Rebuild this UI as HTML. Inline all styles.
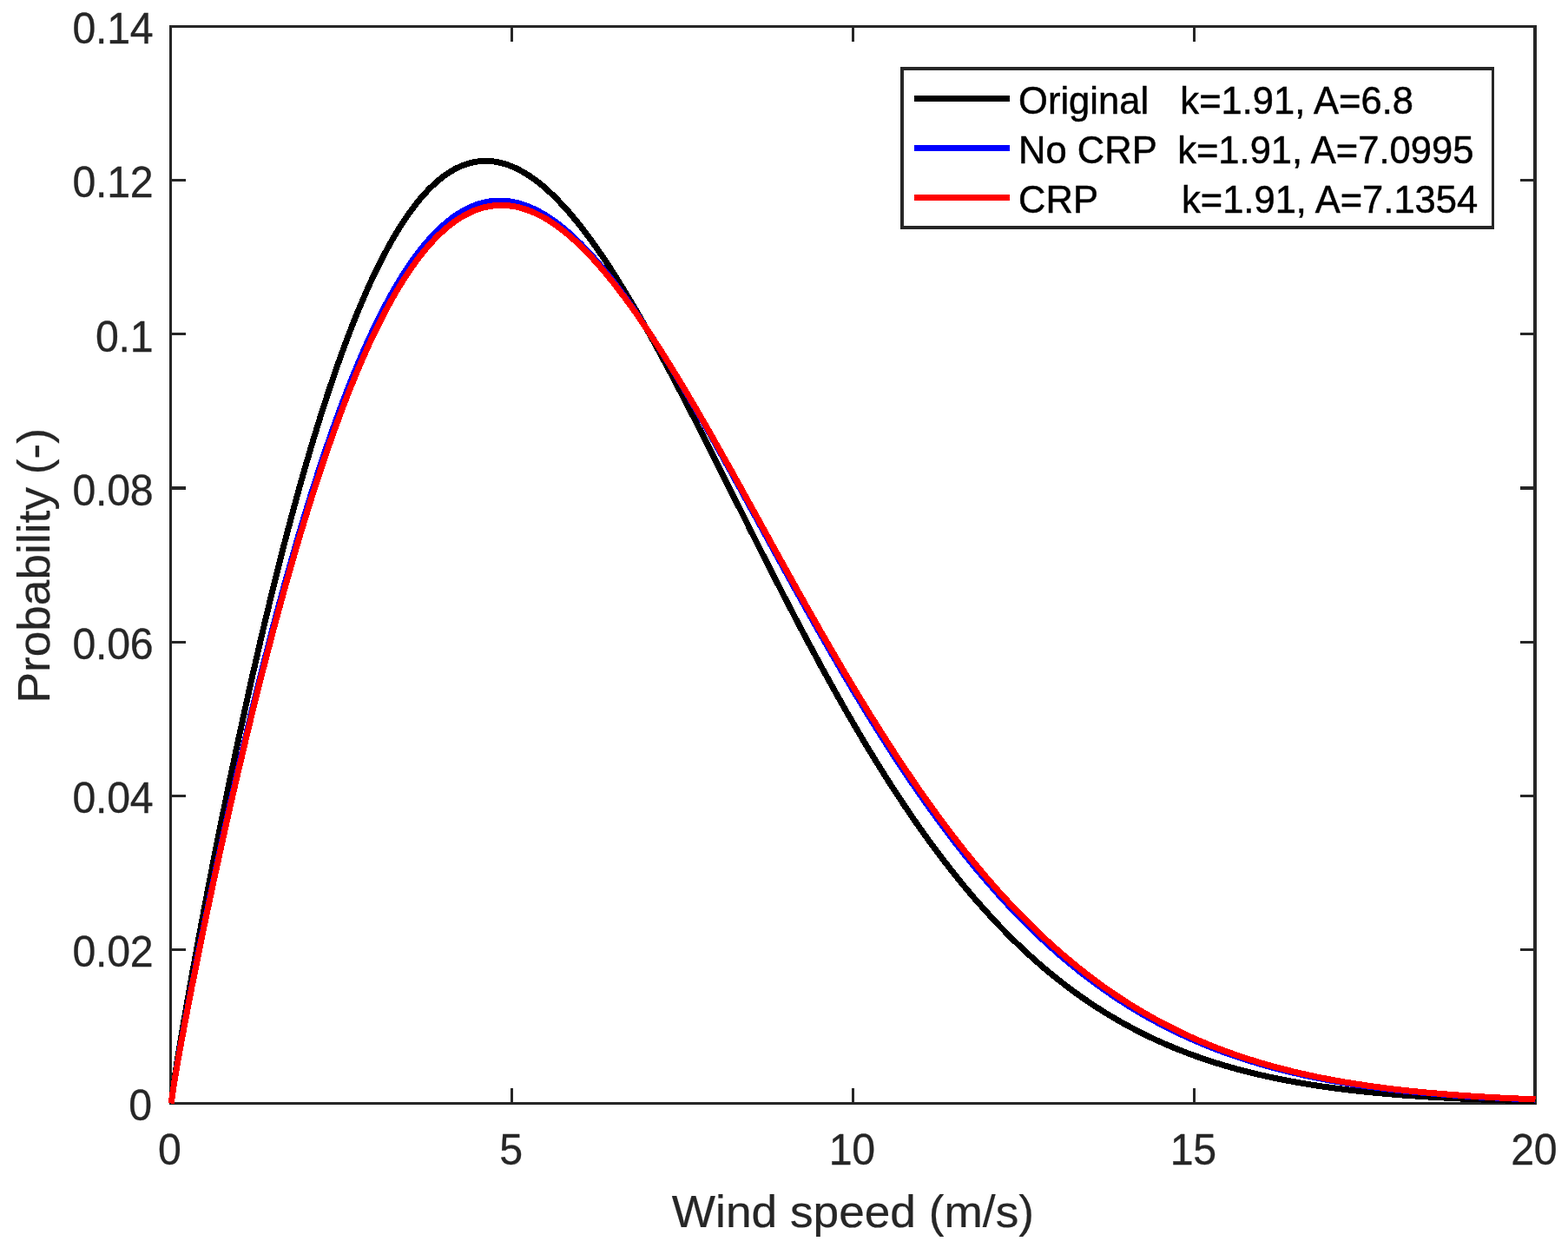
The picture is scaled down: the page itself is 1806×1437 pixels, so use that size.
<!DOCTYPE html>
<html lang="en"><head><meta charset="utf-8"><title>Weibull wind speed distribution</title>
<style>
html,body{margin:0;padding:0;background:#fff;}
body{width:1806px;height:1437px;overflow:hidden;}
svg{display:block;}
text{font-family:"Liberation Sans", Arial, Helvetica, sans-serif;fill:#262626;white-space:pre;}
.tk{font-size:48.3px;letter-spacing:-0.35px;stroke:#262626;stroke-width:0.3px;}
.lb{font-size:53.25px;stroke:#262626;stroke-width:0.25px;}
.lg{font-size:43.55px;fill:#000;stroke:#000;stroke-width:0.5px;}
.ax{fill:#262626;stroke:none;}
.cv{fill:none;stroke-width:7.0;stroke-linejoin:round;stroke-linecap:butt;shape-rendering:crispEdges;}
</style></head><body>
<svg width="1806" height="1437" viewBox="0 0 1806 1437">
<rect x="0" y="0" width="1806" height="1437" fill="#ffffff"/>
<clipPath id="c"><rect x="194" y="29" width="1576" height="1243"/></clipPath>
<g class="ax">
<rect x="195" y="29" width="3" height="1243"/>
<rect x="1766" y="29" width="4" height="1243"/>
<rect x="195" y="29" width="1575" height="3"/>
<rect x="195" y="1269" width="1575" height="3"/>
<rect x="588" y="1253" width="3" height="16"/>
<rect x="588" y="32" width="3" height="16"/>
<rect x="981" y="1253" width="3" height="16"/>
<rect x="981" y="32" width="3" height="16"/>
<rect x="1374" y="1253" width="3" height="16"/>
<rect x="1374" y="32" width="3" height="16"/>
<rect x="198" y="1092" width="16" height="3"/>
<rect x="1751" y="1092" width="15" height="3"/>
<rect x="198" y="915" width="16" height="3"/>
<rect x="1751" y="915" width="15" height="3"/>
<rect x="198" y="738" width="16" height="3"/>
<rect x="1751" y="738" width="15" height="3"/>
<rect x="198" y="560" width="16" height="4"/>
<rect x="1751" y="560" width="15" height="4"/>
<rect x="198" y="383" width="16" height="3"/>
<rect x="1751" y="383" width="15" height="3"/>
<rect x="198" y="206" width="16" height="3"/>
<rect x="1751" y="206" width="15" height="3"/>
</g>
<g clip-path="url(#c)">
<polyline class="cv" stroke="#000000" points="197.1,1270.5 201.0,1242.0 204.9,1217.0 208.8,1193.2 212.8,1170.1 216.7,1147.6 220.6,1125.5 224.6,1103.8 228.5,1082.5 232.4,1061.5 236.3,1040.7 240.3,1020.2 244.2,1000.0 248.1,980.0 252.1,960.3 256.0,940.8 259.9,921.6 263.8,902.5 267.8,883.7 271.7,865.1 275.6,846.8 279.6,828.7 283.5,810.8 287.4,793.1 291.3,775.6 295.3,758.4 299.2,741.4 303.1,724.7 307.1,708.2 311.0,691.9 314.9,675.8 318.8,660.0 322.8,644.5 326.7,629.1 330.6,614.1 334.6,599.2 338.5,584.6 342.4,570.3 346.3,556.2 350.3,542.4 354.2,528.8 358.1,515.5 362.1,502.4 366.0,489.6 369.9,477.0 373.8,464.8 377.8,452.7 381.7,441.0 385.6,429.5 389.6,418.2 393.5,407.3 397.4,396.6 401.3,386.1 405.3,376.0 409.2,366.1 413.1,356.5 417.1,347.1 421.0,338.0 424.9,329.2 428.8,320.6 432.8,312.4 436.7,304.4 440.6,296.6 444.6,289.2 448.5,282.0 452.4,275.0 456.3,268.4 460.3,262.0 464.2,255.8 468.1,250.0 472.1,244.4 476.0,239.1 479.9,234.0 483.8,229.2 487.8,224.6 491.7,220.3 495.6,216.3 499.6,212.5 503.5,209.0 507.4,205.7 511.4,202.7 515.3,199.9 519.2,197.4 523.1,195.1 527.1,193.1 531.0,191.3 534.9,189.8 538.9,188.5 542.8,187.4 546.7,186.5 550.6,185.9 554.6,185.5 558.5,185.3 562.4,185.4 566.4,185.7 570.3,186.2 574.2,186.9 578.1,187.8 582.1,188.9 586.0,190.3 589.9,191.8 593.9,193.5 597.8,195.5 601.7,197.6 605.6,199.9 609.6,202.4 613.5,205.1 617.4,208.0 621.4,211.0 625.3,214.2 629.2,217.6 633.1,221.2 637.1,224.9 641.0,228.8 644.9,232.9 648.9,237.1 652.8,241.4 656.7,245.9 660.6,250.6 664.6,255.4 668.5,260.3 672.4,265.4 676.4,270.6 680.3,275.9 684.2,281.4 688.1,286.9 692.1,292.6 696.0,298.4 699.9,304.3 703.9,310.4 707.8,316.5 711.7,322.7 715.6,329.1 719.6,335.5 723.5,342.0 727.4,348.6 731.4,355.3 735.3,362.1 739.2,368.9 743.1,375.8 747.1,382.8 751.0,389.9 754.9,397.0 758.9,404.2 762.8,411.5 766.7,418.8 770.6,426.1 774.6,433.5 778.5,441.0 782.4,448.5 786.4,456.0 790.3,463.6 794.2,471.2 798.1,478.9 802.1,486.6 806.0,494.3 809.9,502.0 813.9,509.8 817.8,517.5 821.7,525.3 825.6,533.1 829.6,541.0 833.5,548.8 837.4,556.6 841.4,564.5 845.3,572.3 849.2,580.1 853.2,588.0 857.1,595.8 861.0,603.6 864.9,611.5 868.9,619.3 872.8,627.1 876.7,634.8 880.7,642.6 884.6,650.3 888.5,658.1 892.4,665.8 896.4,673.4 900.3,681.1 904.2,688.7 908.2,696.3 912.1,703.8 916.0,711.4 919.9,718.9 923.9,726.3 927.8,733.7 931.7,741.1 935.7,748.4 939.6,755.7 943.5,763.0 947.4,770.2 951.4,777.4 955.3,784.5 959.2,791.5 963.2,798.6 967.1,805.5 971.0,812.5 974.9,819.3 978.9,826.2 982.8,832.9 986.7,839.6 990.7,846.3 994.6,852.9 998.5,859.4 1002.4,865.9 1006.4,872.3 1010.3,878.7 1014.2,885.0 1018.2,891.3 1022.1,897.5 1026.0,903.6 1029.9,909.7 1033.9,915.7 1037.8,921.6 1041.7,927.5 1045.7,933.4 1049.6,939.1 1053.5,944.8 1057.4,950.4 1061.4,956.0 1065.3,961.5 1069.2,967.0 1073.2,972.4 1077.1,977.7 1081.0,982.9 1084.9,988.1 1088.9,993.2 1092.8,998.3 1096.7,1003.3 1100.7,1008.2 1104.6,1013.1 1108.5,1017.9 1112.4,1022.7 1116.4,1027.4 1120.3,1032.0 1124.2,1036.5 1128.2,1041.0 1132.1,1045.4 1136.0,1049.8 1140.0,1054.1 1143.9,1058.4 1147.8,1062.5 1151.7,1066.7 1155.7,1070.7 1159.6,1074.7 1163.5,1078.7 1167.5,1082.6 1171.4,1086.4 1175.3,1090.1 1179.2,1093.8 1183.2,1097.5 1187.1,1101.1 1191.0,1104.6 1195.0,1108.1 1198.9,1111.5 1202.8,1114.9 1206.7,1118.2 1210.7,1121.4 1214.6,1124.6 1218.5,1127.8 1222.5,1130.8 1226.4,1133.9 1230.3,1136.9 1234.2,1139.8 1238.2,1142.7 1242.1,1145.5 1246.0,1148.3 1250.0,1151.0 1253.9,1153.7 1257.8,1156.3 1261.7,1158.9 1265.7,1161.4 1269.6,1163.9 1273.5,1166.4 1277.5,1168.8 1281.4,1171.1 1285.3,1173.4 1289.2,1175.7 1293.2,1177.9 1297.1,1180.1 1301.0,1182.2 1305.0,1184.3 1308.9,1186.4 1312.8,1188.4 1316.7,1190.4 1320.7,1192.3 1324.6,1194.2 1328.5,1196.0 1332.5,1197.9 1336.4,1199.6 1340.3,1201.4 1344.2,1203.1 1348.2,1204.7 1352.1,1206.4 1356.0,1208.0 1360.0,1209.5 1363.9,1211.1 1367.8,1212.6 1371.7,1214.1 1375.7,1215.5 1379.6,1216.9 1383.5,1218.3 1387.5,1219.6 1391.4,1220.9 1395.3,1222.2 1399.2,1223.5 1403.2,1224.7 1407.1,1225.9 1411.0,1227.1 1415.0,1228.2 1418.9,1229.3 1422.8,1230.4 1426.7,1231.5 1430.7,1232.5 1434.6,1233.6 1438.5,1234.6 1442.5,1235.5 1446.4,1236.5 1450.3,1237.4 1454.2,1238.3 1458.2,1239.2 1462.1,1240.0 1466.0,1240.9 1470.0,1241.7 1473.9,1242.5 1477.8,1243.3 1481.8,1244.1 1485.7,1244.8 1489.6,1245.5 1493.5,1246.2 1497.5,1246.9 1501.4,1247.6 1505.3,1248.2 1509.3,1248.9 1513.2,1249.5 1517.1,1250.1 1521.0,1250.7 1525.0,1251.3 1528.9,1251.8 1532.8,1252.4 1536.8,1252.9 1540.7,1253.4 1544.6,1253.9 1548.5,1254.4 1552.5,1254.9 1556.4,1255.3 1560.3,1255.8 1564.3,1256.2 1568.2,1256.7 1572.1,1257.1 1576.0,1257.5 1580.0,1257.9 1583.9,1258.3 1587.8,1258.6 1591.8,1259.0 1595.7,1259.4 1599.6,1259.7 1603.5,1260.0 1607.5,1260.4 1611.4,1260.7 1615.3,1261.0 1619.3,1261.3 1623.2,1261.6 1627.1,1261.8 1631.0,1262.1 1635.0,1262.4 1638.9,1262.6 1642.8,1262.9 1646.8,1263.1 1650.7,1263.4 1654.6,1263.6 1658.5,1263.8 1662.5,1264.0 1666.4,1264.2 1670.3,1264.4 1674.3,1264.6 1678.2,1264.8 1682.1,1265.0 1686.0,1265.2 1690.0,1265.4 1693.9,1265.5 1697.8,1265.7 1701.8,1265.9 1705.7,1266.0 1709.6,1266.2 1713.5,1266.3 1717.5,1266.4 1721.4,1266.6 1725.3,1266.7 1729.3,1266.8 1733.2,1267.0 1737.1,1267.1 1741.0,1267.2 1745.0,1267.3 1748.9,1267.4 1752.8,1267.5 1756.8,1267.6 1760.7,1267.7 1764.6,1267.8 1768.5,1267.9"/>
<polyline class="cv" stroke="#0000ff" points="197.1,1270.5 201.0,1244.3 204.9,1221.3 208.8,1199.3 212.8,1178.0 216.7,1157.3 220.6,1137.0 224.6,1117.0 228.5,1097.3 232.4,1077.9 236.3,1058.8 240.3,1039.9 244.2,1021.2 248.1,1002.8 252.1,984.5 256.0,966.5 259.9,948.7 263.8,931.1 267.8,913.7 271.7,896.5 275.6,879.5 279.6,862.7 283.5,846.1 287.4,829.6 291.3,813.4 295.3,797.4 299.2,781.6 303.1,766.0 307.1,750.6 311.0,735.4 314.9,720.4 318.8,705.6 322.8,691.1 326.7,676.7 330.6,662.5 334.6,648.6 338.5,634.9 342.4,621.4 346.3,608.1 350.3,595.0 354.2,582.2 358.1,569.6 362.1,557.2 366.0,545.0 369.9,533.0 373.8,521.3 377.8,509.8 381.7,498.5 385.6,487.5 389.6,476.7 393.5,466.1 397.4,455.8 401.3,445.7 405.3,435.8 409.2,426.2 413.1,416.8 417.1,407.6 421.0,398.7 424.9,390.0 428.8,381.6 432.8,373.4 436.7,365.4 440.6,357.6 444.6,350.1 448.5,342.9 452.4,335.8 456.3,329.0 460.3,322.5 464.2,316.2 468.1,310.1 472.1,304.2 476.0,298.6 479.9,293.2 483.8,288.1 487.8,283.2 491.7,278.5 495.6,274.0 499.6,269.8 503.5,265.8 507.4,262.0 511.4,258.5 515.3,255.2 519.2,252.1 523.1,249.2 527.1,246.5 531.0,244.1 534.9,241.9 538.9,239.8 542.8,238.0 546.7,236.5 550.6,235.1 554.6,233.9 558.5,233.0 562.4,232.2 566.4,231.6 570.3,231.3 574.2,231.1 578.1,231.2 582.1,231.4 586.0,231.8 589.9,232.4 593.9,233.2 597.8,234.2 601.7,235.4 605.6,236.7 609.6,238.2 613.5,239.9 617.4,241.8 621.4,243.8 625.3,246.0 629.2,248.4 633.1,250.9 637.1,253.6 641.0,256.4 644.9,259.4 648.9,262.5 652.8,265.8 656.7,269.3 660.6,272.8 664.6,276.6 668.5,280.4 672.4,284.4 676.4,288.5 680.3,292.8 684.2,297.1 688.1,301.6 692.1,306.2 696.0,311.0 699.9,315.8 703.9,320.8 707.8,325.8 711.7,331.0 715.6,336.3 719.6,341.6 723.5,347.1 727.4,352.6 731.4,358.3 735.3,364.0 739.2,369.9 743.1,375.8 747.1,381.8 751.0,387.8 754.9,394.0 758.9,400.2 762.8,406.4 766.7,412.8 770.6,419.2 774.6,425.7 778.5,432.2 782.4,438.8 786.4,445.4 790.3,452.1 794.2,458.8 798.1,465.6 802.1,472.4 806.0,479.3 809.9,486.2 813.9,493.1 817.8,500.1 821.7,507.1 825.6,514.1 829.6,521.2 833.5,528.3 837.4,535.4 841.4,542.5 845.3,549.6 849.2,556.8 853.2,563.9 857.1,571.1 861.0,578.3 864.9,585.5 868.9,592.6 872.8,599.8 876.7,607.0 880.7,614.2 884.6,621.4 888.5,628.6 892.4,635.8 896.4,642.9 900.3,650.1 904.2,657.2 908.2,664.4 912.1,671.5 916.0,678.6 919.9,685.6 923.9,692.7 927.8,699.7 931.7,706.8 935.7,713.7 939.6,720.7 943.5,727.6 947.4,734.5 951.4,741.4 955.3,748.3 959.2,755.1 963.2,761.8 967.1,768.6 971.0,775.3 974.9,782.0 978.9,788.6 982.8,795.2 986.7,801.7 990.7,808.2 994.6,814.7 998.5,821.1 1002.4,827.5 1006.4,833.8 1010.3,840.1 1014.2,846.4 1018.2,852.6 1022.1,858.7 1026.0,864.8 1029.9,870.9 1033.9,876.9 1037.8,882.8 1041.7,888.7 1045.7,894.6 1049.6,900.4 1053.5,906.1 1057.4,911.8 1061.4,917.4 1065.3,923.0 1069.2,928.6 1073.2,934.0 1077.1,939.5 1081.0,944.8 1084.9,950.2 1088.9,955.4 1092.8,960.6 1096.7,965.8 1100.7,970.9 1104.6,975.9 1108.5,980.9 1112.4,985.8 1116.4,990.7 1120.3,995.5 1124.2,1000.3 1128.2,1005.0 1132.1,1009.6 1136.0,1014.2 1140.0,1018.7 1143.9,1023.2 1147.8,1027.6 1151.7,1032.0 1155.7,1036.3 1159.6,1040.6 1163.5,1044.8 1167.5,1048.9 1171.4,1053.0 1175.3,1057.0 1179.2,1061.0 1183.2,1064.9 1187.1,1068.8 1191.0,1072.6 1195.0,1076.4 1198.9,1080.1 1202.8,1083.8 1206.7,1087.4 1210.7,1090.9 1214.6,1094.4 1218.5,1097.9 1222.5,1101.3 1226.4,1104.6 1230.3,1107.9 1234.2,1111.1 1238.2,1114.3 1242.1,1117.5 1246.0,1120.6 1250.0,1123.6 1253.9,1126.6 1257.8,1129.6 1261.7,1132.5 1265.7,1135.3 1269.6,1138.1 1273.5,1140.9 1277.5,1143.6 1281.4,1146.3 1285.3,1148.9 1289.2,1151.5 1293.2,1154.0 1297.1,1156.5 1301.0,1159.0 1305.0,1161.4 1308.9,1163.8 1312.8,1166.1 1316.7,1168.4 1320.7,1170.6 1324.6,1172.8 1328.5,1175.0 1332.5,1177.1 1336.4,1179.2 1340.3,1181.2 1344.2,1183.3 1348.2,1185.2 1352.1,1187.2 1356.0,1189.1 1360.0,1190.9 1363.9,1192.7 1367.8,1194.5 1371.7,1196.3 1375.7,1198.0 1379.6,1199.7 1383.5,1201.4 1387.5,1203.0 1391.4,1204.6 1395.3,1206.1 1399.2,1207.7 1403.2,1209.2 1407.1,1210.6 1411.0,1212.1 1415.0,1213.5 1418.9,1214.9 1422.8,1216.2 1426.7,1217.5 1430.7,1218.8 1434.6,1220.1 1438.5,1221.3 1442.5,1222.5 1446.4,1223.7 1450.3,1224.9 1454.2,1226.0 1458.2,1227.2 1462.1,1228.2 1466.0,1229.3 1470.0,1230.4 1473.9,1231.4 1477.8,1232.4 1481.8,1233.3 1485.7,1234.3 1489.6,1235.2 1493.5,1236.1 1497.5,1237.0 1501.4,1237.9 1505.3,1238.8 1509.3,1239.6 1513.2,1240.4 1517.1,1241.2 1521.0,1242.0 1525.0,1242.7 1528.9,1243.5 1532.8,1244.2 1536.8,1244.9 1540.7,1245.6 1544.6,1246.2 1548.5,1246.9 1552.5,1247.5 1556.4,1248.2 1560.3,1248.8 1564.3,1249.4 1568.2,1250.0 1572.1,1250.5 1576.0,1251.1 1580.0,1251.6 1583.9,1252.1 1587.8,1252.6 1591.8,1253.1 1595.7,1253.6 1599.6,1254.1 1603.5,1254.6 1607.5,1255.0 1611.4,1255.5 1615.3,1255.9 1619.3,1256.3 1623.2,1256.7 1627.1,1257.1 1631.0,1257.5 1635.0,1257.9 1638.9,1258.2 1642.8,1258.6 1646.8,1258.9 1650.7,1259.3 1654.6,1259.6 1658.5,1259.9 1662.5,1260.2 1666.4,1260.5 1670.3,1260.8 1674.3,1261.1 1678.2,1261.4 1682.1,1261.7 1686.0,1261.9 1690.0,1262.2 1693.9,1262.4 1697.8,1262.7 1701.8,1262.9 1705.7,1263.2 1709.6,1263.4 1713.5,1263.6 1717.5,1263.8 1721.4,1264.0 1725.3,1264.2 1729.3,1264.4 1733.2,1264.6 1737.1,1264.8 1741.0,1265.0 1745.0,1265.1 1748.9,1265.3 1752.8,1265.5 1756.8,1265.6 1760.7,1265.8 1764.6,1265.9 1768.5,1266.1"/>
<polyline class="cv" stroke="#ff0000" points="197.1,1270.5 201.0,1244.5 204.9,1221.7 208.8,1200.0 212.8,1178.9 216.7,1158.4 220.6,1138.2 224.6,1118.4 228.5,1098.9 232.4,1079.7 236.3,1060.8 240.3,1042.1 244.2,1023.6 248.1,1005.3 252.1,987.2 256.0,969.4 259.9,951.7 263.8,934.3 267.8,917.0 271.7,900.0 275.6,883.1 279.6,866.5 283.5,850.0 287.4,833.7 291.3,817.7 295.3,801.8 299.2,786.1 303.1,770.6 307.1,755.4 311.0,740.3 314.9,725.4 318.8,710.8 322.8,696.3 326.7,682.0 330.6,668.0 334.6,654.2 338.5,640.5 342.4,627.1 346.3,613.9 350.3,601.0 354.2,588.2 358.1,575.7 362.1,563.3 366.0,551.2 369.9,539.4 373.8,527.7 377.8,516.3 381.7,505.1 385.6,494.1 389.6,483.3 393.5,472.8 397.4,462.5 401.3,452.5 405.3,442.6 409.2,433.0 413.1,423.7 417.1,414.5 421.0,405.6 424.9,396.9 428.8,388.5 432.8,380.3 436.7,372.3 440.6,364.6 444.6,357.1 448.5,349.8 452.4,342.8 456.3,336.0 460.3,329.4 464.2,323.1 468.1,317.0 472.1,311.1 476.0,305.5 479.9,300.1 483.8,294.9 487.8,289.9 491.7,285.2 495.6,280.7 499.6,276.4 503.5,272.4 507.4,268.6 511.4,265.0 515.3,261.6 519.2,258.4 523.1,255.5 527.1,252.8 531.0,250.3 534.9,248.0 538.9,245.9 542.8,244.0 546.7,242.3 550.6,240.9 554.6,239.6 558.5,238.6 562.4,237.8 566.4,237.1 570.3,236.7 574.2,236.4 578.1,236.4 582.1,236.5 586.0,236.8 589.9,237.3 593.9,238.0 597.8,238.9 601.7,240.0 605.6,241.2 609.6,242.6 613.5,244.2 617.4,245.9 621.4,247.9 625.3,249.9 629.2,252.2 633.1,254.6 637.1,257.2 641.0,259.9 644.9,262.8 648.9,265.8 652.8,269.0 656.7,272.3 660.6,275.7 664.6,279.3 668.5,283.1 672.4,286.9 676.4,290.9 680.3,295.0 684.2,299.3 688.1,303.7 692.1,308.2 696.0,312.8 699.9,317.5 703.9,322.3 707.8,327.3 711.7,332.3 715.6,337.5 719.6,342.7 723.5,348.1 727.4,353.5 731.4,359.0 735.3,364.7 739.2,370.4 743.1,376.1 747.1,382.0 751.0,388.0 754.9,394.0 758.9,400.1 762.8,406.3 766.7,412.5 770.6,418.8 774.6,425.2 778.5,431.6 782.4,438.0 786.4,444.6 790.3,451.2 794.2,457.8 798.1,464.5 802.1,471.2 806.0,477.9 809.9,484.8 813.9,491.6 817.8,498.5 821.7,505.4 825.6,512.3 829.6,519.3 833.5,526.3 837.4,533.3 841.4,540.3 845.3,547.3 849.2,554.4 853.2,561.5 857.1,568.6 861.0,575.7 864.9,582.8 868.9,589.9 872.8,597.0 876.7,604.1 880.7,611.3 884.6,618.4 888.5,625.5 892.4,632.6 896.4,639.7 900.3,646.8 904.2,653.9 908.2,661.0 912.1,668.0 916.0,675.0 919.9,682.1 923.9,689.1 927.8,696.1 931.7,703.0 935.7,710.0 939.6,716.9 943.5,723.8 947.4,730.6 951.4,737.5 955.3,744.3 959.2,751.0 963.2,757.8 967.1,764.5 971.0,771.2 974.9,777.8 978.9,784.4 982.8,791.0 986.7,797.5 990.7,804.0 994.6,810.4 998.5,816.8 1002.4,823.2 1006.4,829.5 1010.3,835.8 1014.2,842.0 1018.2,848.2 1022.1,854.3 1026.0,860.4 1029.9,866.4 1033.9,872.4 1037.8,878.4 1041.7,884.3 1045.7,890.1 1049.6,895.9 1053.5,901.7 1057.4,907.4 1061.4,913.0 1065.3,918.6 1069.2,924.1 1073.2,929.6 1077.1,935.0 1081.0,940.4 1084.9,945.7 1088.9,951.0 1092.8,956.2 1096.7,961.4 1100.7,966.5 1104.6,971.6 1108.5,976.5 1112.4,981.5 1116.4,986.4 1120.3,991.2 1124.2,996.0 1128.2,1000.7 1132.1,1005.4 1136.0,1010.0 1140.0,1014.5 1143.9,1019.0 1147.8,1023.5 1151.7,1027.9 1155.7,1032.2 1159.6,1036.5 1163.5,1040.7 1167.5,1044.9 1171.4,1049.0 1175.3,1053.1 1179.2,1057.1 1183.2,1061.0 1187.1,1064.9 1191.0,1068.8 1195.0,1072.6 1198.9,1076.3 1202.8,1080.0 1206.7,1083.6 1210.7,1087.2 1214.6,1090.7 1218.5,1094.2 1222.5,1097.7 1226.4,1101.0 1230.3,1104.4 1234.2,1107.6 1238.2,1110.9 1242.1,1114.1 1246.0,1117.2 1250.0,1120.3 1253.9,1123.3 1257.8,1126.3 1261.7,1129.2 1265.7,1132.1 1269.6,1135.0 1273.5,1137.8 1277.5,1140.5 1281.4,1143.2 1285.3,1145.9 1289.2,1148.5 1293.2,1151.1 1297.1,1153.6 1301.0,1156.1 1305.0,1158.5 1308.9,1160.9 1312.8,1163.3 1316.7,1165.6 1320.7,1167.9 1324.6,1170.1 1328.5,1172.3 1332.5,1174.5 1336.4,1176.6 1340.3,1178.7 1344.2,1180.7 1348.2,1182.7 1352.1,1184.7 1356.0,1186.6 1360.0,1188.5 1363.9,1190.4 1367.8,1192.2 1371.7,1194.0 1375.7,1195.8 1379.6,1197.5 1383.5,1199.2 1387.5,1200.8 1391.4,1202.5 1395.3,1204.1 1399.2,1205.6 1403.2,1207.2 1407.1,1208.7 1411.0,1210.1 1415.0,1211.6 1418.9,1213.0 1422.8,1214.4 1426.7,1215.7 1430.7,1217.0 1434.6,1218.3 1438.5,1219.6 1442.5,1220.8 1446.4,1222.1 1450.3,1223.3 1454.2,1224.4 1458.2,1225.6 1462.1,1226.7 1466.0,1227.8 1470.0,1228.9 1473.9,1229.9 1477.8,1230.9 1481.8,1231.9 1485.7,1232.9 1489.6,1233.9 1493.5,1234.8 1497.5,1235.7 1501.4,1236.6 1505.3,1237.5 1509.3,1238.3 1513.2,1239.2 1517.1,1240.0 1521.0,1240.8 1525.0,1241.6 1528.9,1242.3 1532.8,1243.1 1536.8,1243.8 1540.7,1244.5 1544.6,1245.2 1548.5,1245.9 1552.5,1246.5 1556.4,1247.2 1560.3,1247.8 1564.3,1248.4 1568.2,1249.0 1572.1,1249.6 1576.0,1250.2 1580.0,1250.7 1583.9,1251.3 1587.8,1251.8 1591.8,1252.3 1595.7,1252.8 1599.6,1253.3 1603.5,1253.8 1607.5,1254.3 1611.4,1254.7 1615.3,1255.2 1619.3,1255.6 1623.2,1256.0 1627.1,1256.4 1631.0,1256.8 1635.0,1257.2 1638.9,1257.6 1642.8,1258.0 1646.8,1258.3 1650.7,1258.7 1654.6,1259.0 1658.5,1259.4 1662.5,1259.7 1666.4,1260.0 1670.3,1260.3 1674.3,1260.6 1678.2,1260.9 1682.1,1261.2 1686.0,1261.5 1690.0,1261.7 1693.9,1262.0 1697.8,1262.3 1701.8,1262.5 1705.7,1262.7 1709.6,1263.0 1713.5,1263.2 1717.5,1263.4 1721.4,1263.6 1725.3,1263.9 1729.3,1264.1 1733.2,1264.3 1737.1,1264.4 1741.0,1264.6 1745.0,1264.8 1748.9,1265.0 1752.8,1265.2 1756.8,1265.3 1760.7,1265.5 1764.6,1265.6 1768.5,1265.8"/>
</g>
<text class="tk" text-anchor="end" transform="translate(174.8 1290) scale(1 1.03)">0</text>
<text class="tk" text-anchor="end" transform="translate(176.2 1113) scale(1 1.03)">0.02</text>
<text class="tk" text-anchor="end" transform="translate(176.2 936) scale(1 1.03)">0.04</text>
<text class="tk" text-anchor="end" transform="translate(176.2 759) scale(1 1.03)">0.06</text>
<text class="tk" text-anchor="end" transform="translate(176.2 582) scale(1 1.03)">0.08</text>
<text class="tk" text-anchor="end" transform="translate(176.2 405) scale(1 1.03)">0.1</text>
<text class="tk" text-anchor="end" transform="translate(176.2 227) scale(1 1.03)">0.12</text>
<text class="tk" text-anchor="end" transform="translate(176.2 50) scale(1 1.03)">0.14</text>
<text class="tk" text-anchor="middle" transform="translate(195.3 1341) scale(1 1.03)">0</text>
<text class="tk" text-anchor="middle" transform="translate(588.48 1341) scale(1 1.03)">5</text>
<text class="tk" text-anchor="middle" transform="translate(981.35 1341) scale(1 1.03)">10</text>
<text class="tk" text-anchor="middle" transform="translate(1374.22 1341) scale(1 1.03)">15</text>
<text class="tk" text-anchor="middle" transform="translate(1766.8 1341) scale(1 1.03)">20</text>
<text class="lb" text-anchor="middle" transform="translate(982.4 1412.9) scale(1 0.98)">Wind speed (m/s)</text>
<text class="lb" text-anchor="middle" transform="translate(57.06 651.3) rotate(-90) scale(1 0.98)">Probability (-)</text>
<rect x="1037" y="77" width="684" height="187" fill="#262626"/>
<rect x="1041" y="81" width="677" height="179" fill="#ffffff"/>
<rect x="1053" y="110" width="110" height="7" fill="#000000"/>
<text xml:space="preserve" class="lg" text-anchor="start" transform="translate(1173.1 131) scale(1 1.035)">Original   k=1.91, A=6.8</text>
<rect x="1053" y="167" width="110" height="7" fill="#0000ff"/>
<text xml:space="preserve" class="lg" text-anchor="start" transform="translate(1173.1 188) scale(1 1.035)">No CRP  k=1.91, A=7.0995</text>
<rect x="1053" y="224" width="110" height="7" fill="#ff0000"/>
<text xml:space="preserve" class="lg" text-anchor="start" transform="translate(1173.1 245) scale(1 1.035)">CRP        k=1.91, A=7.1354</text>
</svg>
</body></html>
